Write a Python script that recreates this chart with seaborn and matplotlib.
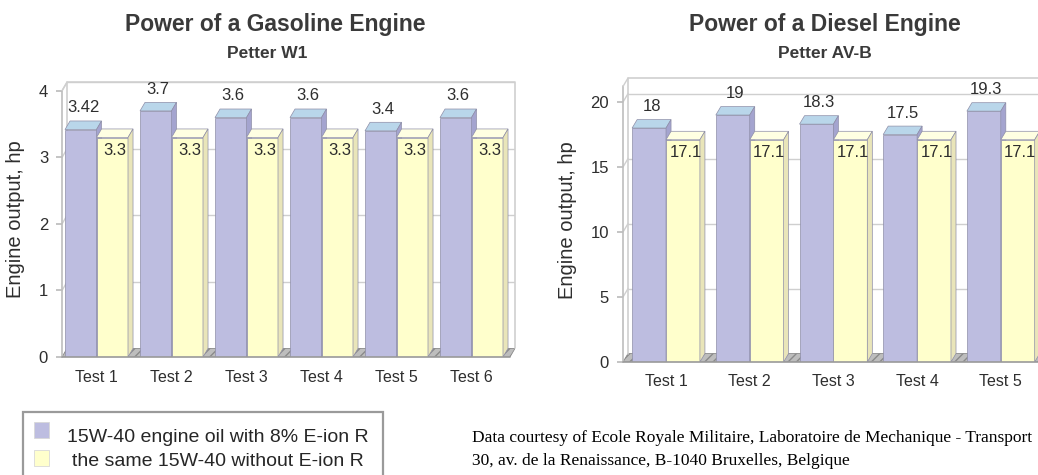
import numpy as np
import pandas as pd
import matplotlib
matplotlib.use("Agg")
import matplotlib.pyplot as plt
from matplotlib.patches import Polygon, Rectangle
import seaborn as sns

# ---------------- data ----------------
gas_tests = ["Test 1", "Test 2", "Test 3", "Test 4", "Test 5", "Test 6"]
gas_with = [3.42, 3.7, 3.6, 3.6, 3.4, 3.6]
gas_without = [3.3, 3.3, 3.3, 3.3, 3.3, 3.3]
gas_with_labels = ["3.42", "3.7", "3.6", "3.6", "3.4", "3.6"]
gas_without_labels = ["3.3", "3.3", "3.3", "3.3", "3.3", "3.3"]
gas_yticks = [0, 1, 2, 3, 4]

dsl_tests = ["Test 1", "Test 2", "Test 3", "Test 4", "Test 5"]
dsl_with = [18, 19, 18.3, 17.5, 19.3]
dsl_without = [17.1, 17.1, 17.1, 17.1, 17.1]
dsl_with_labels = ["18", "19", "18.3", "17.5", "19.3"]
dsl_without_labels = ["17.1", "17.1", "17.1", "17.1", "17.1"]
dsl_yticks = [0, 5, 10, 15, 20]

series_names = ["15W-40 engine oil with 8% E-ion R", "the same 15W-40 without E-ion R"]

# ---------------- style ----------------
sns.set_theme(style="white")
plt.rcParams["font.family"] = ["Liberation Sans", "DejaVu Sans"]

PURPLE = "#BDBDE0"
PURPLE_TOP = "#B9D6EA"
PURPLE_SIDE = "#A4A4CF"
YELLOW = "#FFFFCC"
YELLOW_TOP = "#FFFFE2"
YELLOW_SIDE = "#E9E5B9"
EDGE = "#8E8EA8"
GRID = "#CFCFCF"
TXT = "#2E2E2E"

W, H = 1038, 475
fig = plt.figure(figsize=(W / 100, H / 100), dpi=100)


def px_axes(x0, x1, ytop, ybot):
    return fig.add_axes([x0 / W, (H - ybot) / H, (x1 - x0) / W, (ybot - ytop) / H])


def draw_panel(ax, tests, vals_with, vals_without, lab_with, lab_without,
               yticks, xlim, ylim_top, dx, dy, width):
    n = len(tests)
    df = pd.DataFrame({
        "Test": tests * 2,
        "Oil": [series_names[0]] * n + [series_names[1]] * n,
        "Power": list(vals_with) + list(vals_without),
    })
    sns.barplot(data=df, x="Test", y="Power", hue="Oil",
                palette=[PURPLE, YELLOW], width=width, gap=0, saturation=1,
                errorbar=None, legend=False, ax=ax,
                edgecolor=EDGE, linewidth=0.5)
    ax.set_xlim(*xlim)
    ax.set_ylim(0, ylim_top)
    x0, x1 = xlim

    # floor and back wall (pseudo 3D)
    floor = Polygon([(x0, 0), (x0 + dx, dy), (x1, dy), (x1 - dx, 0)],
                    closed=True, facecolor="#BDBDBD", edgecolor="#8A8A8A",
                    hatch="////", linewidth=0.6, zorder=0.5)
    ax.add_patch(floor)
    for t in yticks[1:]:
        ax.plot([x0 + dx, x1], [t + dy, t + dy], color=GRID, lw=1.0, zorder=0.6)
        ax.plot([x0, x0 + dx], [t, t + dy], color=GRID, lw=1.0, zorder=0.6)
    ax.plot([x0 + dx, x0 + dx, x1, x1], [dy, ylim_top, ylim_top, dy],
            color=GRID, lw=1.2, zorder=0.6, clip_on=False)
    ax.plot([x0, x0], [0, ylim_top - dy], color="#BDBDBD", lw=1.2, zorder=0.6,
            clip_on=False)
    ax.plot([x0, x0 + dx], [ylim_top - dy, ylim_top], color=GRID, lw=1.0,
            zorder=0.6, clip_on=False)
    ax.plot([x0, x1 - dx], [0, 0], color="#9A9A9A", lw=1.2, zorder=5,
            clip_on=False)

    # 3D faces for every bar
    bars = [b for b in ax.patches if isinstance(b, Rectangle) and b.get_height() > 0][:2 * n]
    for i, b in enumerate(bars):
        is_with = i < n
        z = 2 if is_with else 3
        b.set_zorder(z)
        bx, bw, bh = b.get_x(), b.get_width(), b.get_height()
        top = Polygon([(bx, bh), (bx + dx, bh + dy), (bx + bw + dx, bh + dy), (bx + bw, bh)],
                      closed=True, facecolor=PURPLE_TOP if is_with else YELLOW_TOP,
                      edgecolor=EDGE, linewidth=0.5, zorder=z)
        side = Polygon([(bx + bw, 0), (bx + bw + dx, dy), (bx + bw + dx, bh + dy), (bx + bw, bh)],
                       closed=True, facecolor=PURPLE_SIDE if is_with else YELLOW_SIDE,
                       edgecolor=EDGE, linewidth=0.5, zorder=z)
        ax.add_patch(top)
        ax.add_patch(side)
        cx = bx + bw / 2 + dx / 2
        if is_with:
            ax.annotate(lab_with[i], (cx, bh + dy), xytext=(0, 4),
                        textcoords="offset points", ha="center", va="bottom",
                        fontsize=12, color=TXT, zorder=6)
        else:
            ax.annotate(lab_without[i - n], (cx, bh), xytext=(0, -4),
                        textcoords="offset points", ha="center", va="top",
                        fontsize=12, color=TXT, zorder=6)

    for s in ax.spines.values():
        s.set_visible(False)
    ax.set_yticks(yticks)
    ax.set_yticklabels([str(t) for t in yticks], fontsize=12, color=TXT)
    ax.set_xticks(range(n))
    ax.set_xticklabels(tests, fontsize=11.5, color=TXT)
    ax.tick_params(axis="x", length=0, pad=9)
    ax.tick_params(axis="y", length=4, color="#BDBDBD", pad=6, left=True)
    ax.set_xlabel("")
    ax.set_ylabel("Engine output, hp", fontsize=14.5, color=TXT, labelpad=10)
    ax.grid(False)
    ax.set_facecolor("none")


ax1 = px_axes(62, 515, 82, 357)
draw_panel(ax1, gas_tests, gas_with, gas_without, gas_with_labels, gas_without_labels,
           gas_yticks, (-0.46, 5.58), 4.135, 0.067, 0.129, 0.84)

ax2 = px_axes(623, 1051, 78, 362)
draw_panel(ax2, dsl_tests, dsl_with, dsl_without, dsl_with_labels, dsl_without_labels,
           dsl_yticks, (-0.514, 4.6), 21.85, 0.06, 0.65, 0.81)

# titles
fig.text(275 / W, 1 - 25 / H, "Power of a Gasoline Engine", ha="center", va="center",
         fontsize=16.5, fontweight="bold", color="#3A3A3A")
fig.text(267 / W, 1 - 53 / H, "Petter W1", ha="center", va="center",
         fontsize=12.5, fontweight="bold", color="#3A3A3A")
fig.text(825 / W, 1 - 25 / H, "Power of a Diesel Engine", ha="center", va="center",
         fontsize=16.5, fontweight="bold", color="#3A3A3A")
fig.text(825 / W, 1 - 53 / H, "Petter AV-B", ha="center", va="center",
         fontsize=12.5, fontweight="bold", color="#3A3A3A")

# legend box (bottom left)
fig.patches.append(Rectangle((23 / W, -0.05), 360 / W, (475 - 412) / H + 0.05,
                             transform=fig.transFigure, facecolor="white",
                             edgecolor="#9A9A9A", linewidth=1.6))
for yc, col in [(430, PURPLE), (458, YELLOW)]:
    fig.patches.append(Rectangle((34 / W, 1 - (yc + 8) / H), 15 / W, 16 / H,
                                 transform=fig.transFigure, facecolor=col,
                                 edgecolor="#D8D8D8", linewidth=0.6))
fig.text(218 / W, 1 - 437 / H, series_names[0], ha="center", va="center",
         fontsize=14, color="#262626")
fig.text(218 / W, 1 - 462 / H, series_names[1], ha="center", va="center",
         fontsize=14, color="#262626")

# source note
serif = ["Liberation Serif", "DejaVu Serif"]
fig.text(472 / W, 1 - 438 / H,
         "Data courtesy of Ecole Royale Militaire, Laboratoire de Mechanique - Transport",
         ha="left", va="center", fontsize=12.5, color="black", family=serif)
fig.text(472 / W, 1 - 461 / H, "30, av. de la Renaissance, B-1040 Bruxelles, Belgique",
         ha="left", va="center", fontsize=12.5, color="black", family=serif)

fig.savefig("out.png", dpi=100, facecolor="white")
